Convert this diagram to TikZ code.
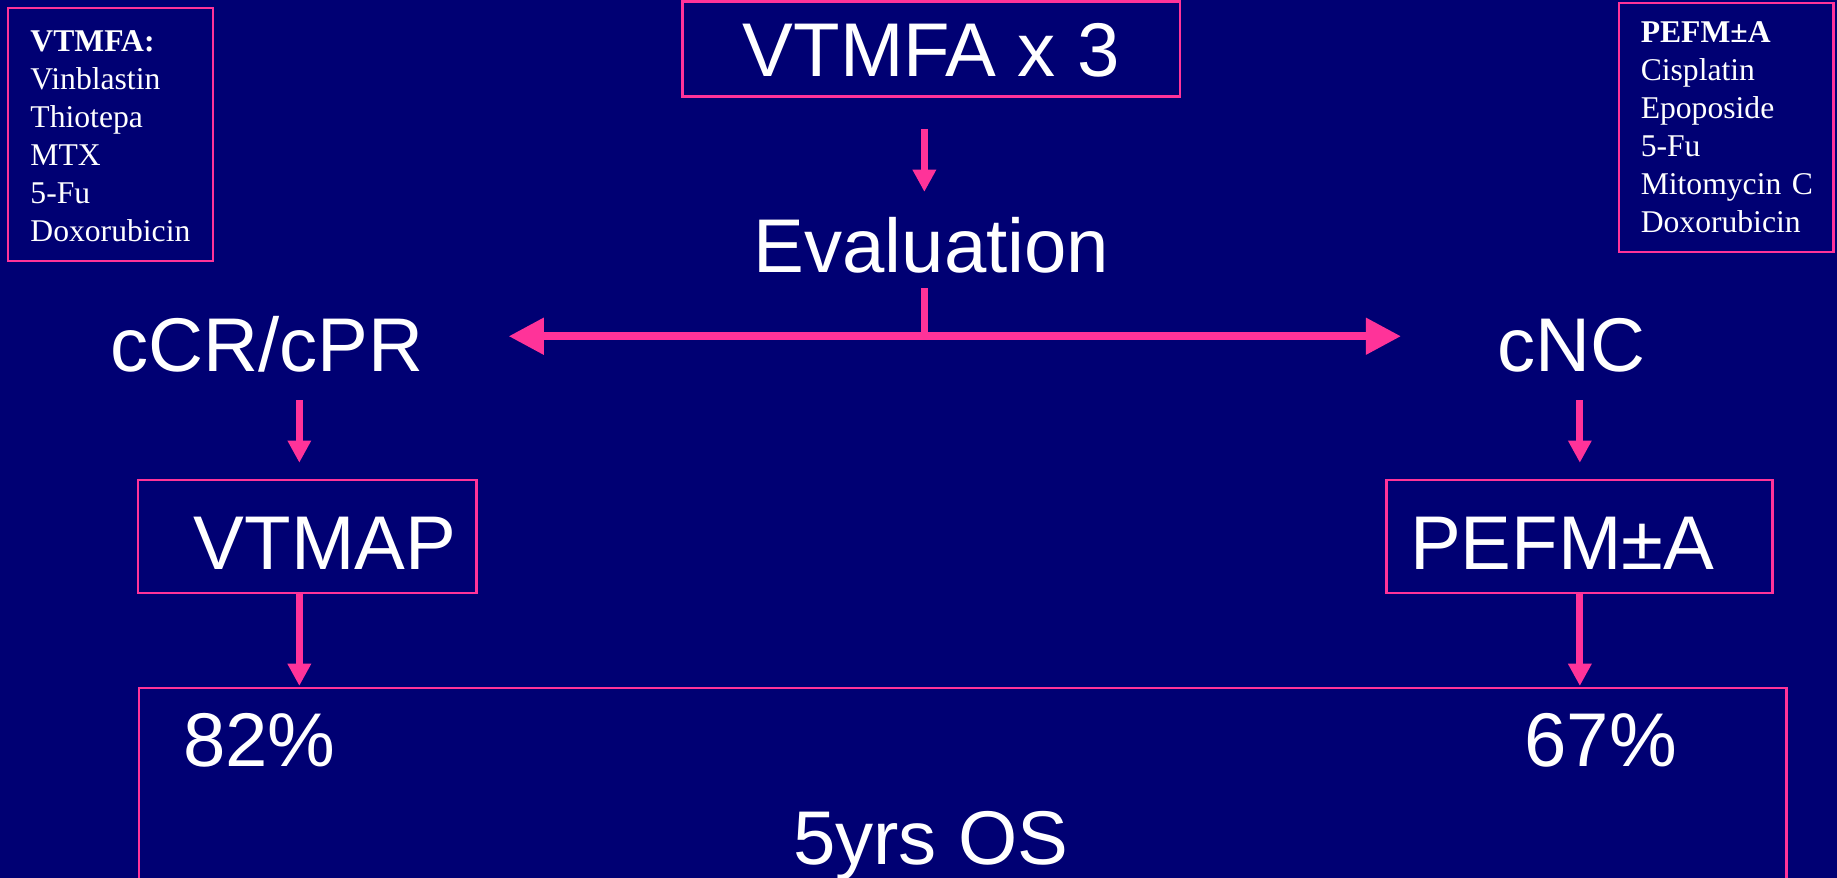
\documentclass[tikz,border=0pt]{standalone}
\usepackage{fontspec}
\setmainfont{Liberation Serif}
\newfontfamily\sansf{Liberation Sans}
\usetikzlibrary{arrows.meta}
\definecolor{navy}{RGB}{0,0,115}
\definecolor{hotpink}{RGB}{255,51,153}
\begin{document}
\begin{tikzpicture}[x=1pt,y=-1pt,
  bigfont/.style={font=\sansf\fontsize{65}{78}\selectfont, text=white},
  lbl/.style={bigfont, inner sep=0pt, text height=47pt, text depth=0pt, anchor=base},
  boxed/.style={draw=hotpink, line width=2pt, inner sep=0pt},
  legend/.style={boxed, font=\fontsize{27}{32.44}\selectfont, text=white, align=left, anchor=north west},
  varr/.style={draw=hotpink, line width=6pt, -{Triangle[length=19pt,width=19pt]}},
  harr/.style={draw=hotpink, line width=6.5pt, {Triangle[length=30pt,width=30pt]}-{Triangle[length=30pt,width=30pt]}},
  shaft/.style={draw=hotpink, line width=6pt}]
\fill[navy] (0,0) rectangle (1568,749);
\useasboundingbox (0,0) rectangle (1568,749);

% legends
\node[legend, minimum width=175pt, text width=137pt, text height=36.7pt, text depth=179.3pt] (legL) at (6,6)
  {\textbf{VTMFA:}\\Vinblastin\\Thiotepa\\MTX\\5-Fu\\Doxorubicin};
\node[legend, minimum width=183pt, text width=146pt, text height=34.3pt, text depth=178.6pt] (legR) at (1381,1.3)
  {\textbf{PEFM±A}\\Cisplatin\\Epoposide\\5-Fu\\\mbox{Mitomycin C}\\Doxorubicin};

% main nodes
\node[boxed, bigfont, minimum width=424.5pt, minimum height=81.2pt, text height=46.2pt, text depth=0pt] (vtmfa) at (794.8,41.9) {VTMFA x 3};
\node[lbl] (eval) at (795,233) {Evaluation};
\node[lbl] (ccr) at (228,317) {cCR/cPR};
\node[lbl] (cnc) at (1341,317) {cNC};
\node[boxed, bigfont, minimum width=288.7pt, minimum height=96.3pt, text height=57.3pt, text depth=0pt] (vtmap) at (262.35,457.85) {\hspace*{30pt}VTMAP};
\node[boxed, bigfont, minimum width=329.5pt, minimum height=96.3pt, text height=57.3pt, text depth=0pt] (pefm) at (1348.25,457.85) {PEFM±A\hspace*{29.6pt}};
\node[boxed, minimum width=1406.5pt, minimum height=300pt] (os) at (821.75,737.5) {};
\node[lbl] (p82) at (221.4,654.4) {82\%};
\node[lbl] (p67) at (1366.2,654.4) {67\%};
\node[lbl] (osl) at (794.3,738.3) {5yrs OS};

% guide coordinates
\coordinate (split) at (789,287);
\coordinate (colL) at (255.5,0);
\coordinate (colR) at (1348.5,0);

% connectors
\draw[varr, shorten <=26.5pt, shorten >=22pt] (vtmfa.south -| split) -- (eval.north -| split);
\draw[shaft, shorten <=13pt] (eval.south -| split) -- (split);
\draw[harr, shorten <=72.4pt, shorten >=81.8pt] (split -| ccr.east) -- (split -| cnc.west);
\draw[varr, shorten <=24.5pt, shorten >=13.7pt] (ccr.south -| colL) -- (vtmap.north -| colL);
\draw[varr, shorten >=1pt] (vtmap.south -| colL) -- (os.north -| colL);
\draw[varr, shorten <=24.5pt, shorten >=13.7pt] (cnc.south -| colR) -- (pefm.north -| colR);
\draw[varr, shorten >=1pt] (pefm.south -| colR) -- (os.north -| colR);
\end{tikzpicture}
\end{document}
